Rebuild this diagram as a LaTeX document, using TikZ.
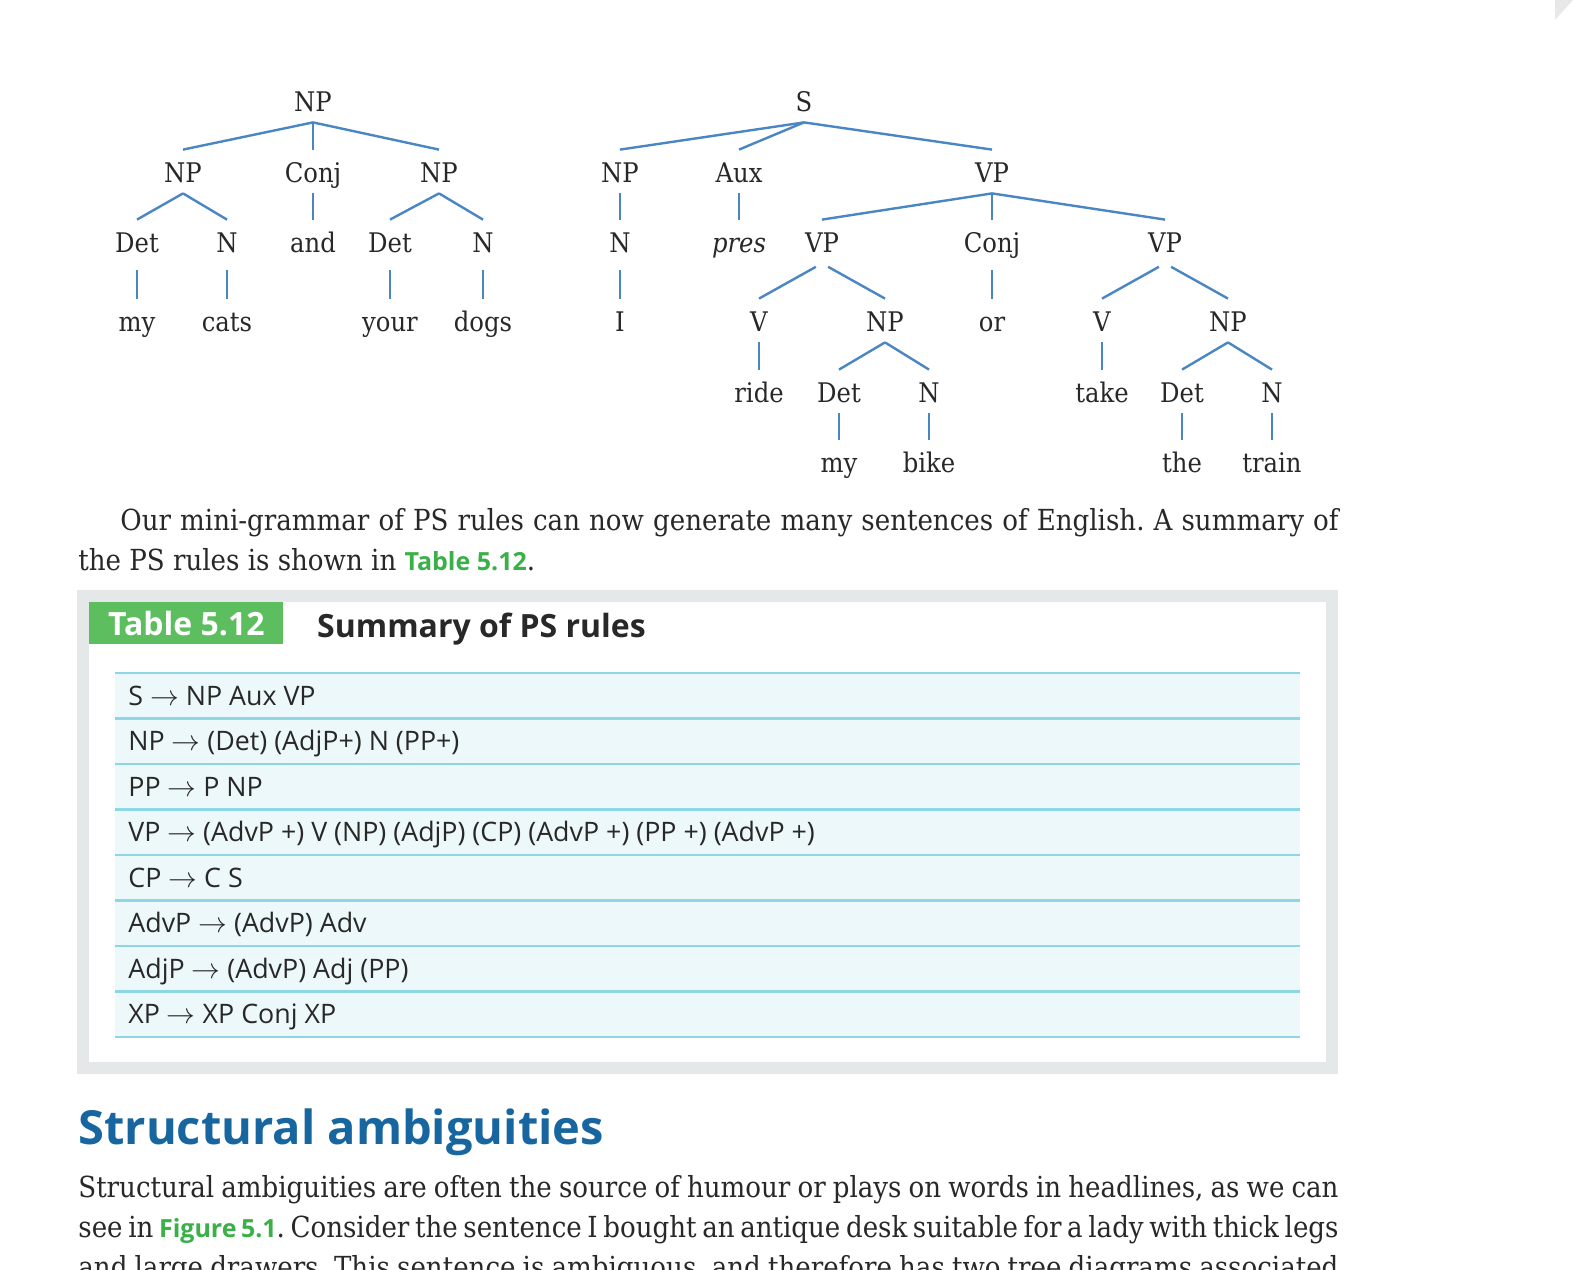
\documentclass[tikz,border=0pt]{standalone}
\usepackage{fontspec}
\setmainfont{DejaVu Serif Condensed}
\setsansfont{Open Sans}
\usetikzlibrary{positioning}
\definecolor{branchblue}{RGB}{74,134,196}
\definecolor{inkgray}{RGB}{40,40,40}
\definecolor{tabgreen}{RGB}{92,190,94}
\definecolor{linkgreen}{RGB}{58,176,72}
\definecolor{framegray}{RGB}{229,232,233}
\definecolor{rowfill}{RGB}{237,248,250}
\definecolor{rowline}{RGB}{140,214,229}
\definecolor{headblue}{RGB}{24,102,160}
\newcommand{\psarrow}{$\rightarrow$}
\newcommand{\greenref}[1]{{\sffamily\bfseries\fontsize{12.5}{14}\selectfont\color{linkgreen}#1}}
\frenchspacing
\tikzset{
  cat/.style={anchor=base,text=inkgray,font=\fontsize{13.5}{15}\selectfont,
    text height=15pt,text depth=4.5pt,inner xsep=1pt,inner ysep=1pt},
  branch/.style={draw=branchblue,line width=1.2pt},
  lowbranch/.style={branch,shorten <=3.5pt},
  bodyline/.style={anchor=base west,inner sep=0pt,text=inkgray,font=\fontsize{14.5}{16}\selectfont},
  rulerow/.style={anchor=base west,inner sep=0pt,text=inkgray,font=\sffamily\fontsize{13.4}{15}\selectfont}
}
\begin{document}
\begin{tikzpicture}[x=0.5pt,y=-0.5pt]
\useasboundingbox (0,0) rectangle (1573,1269);
\fill[white] (0,0) rectangle (1573,1269);
\fill[black!9] (1555,0) -- (1573,0) -- (1555,20) -- cycle;

% coordination of NPs
\node[cat] (np0) at (313,111) {NP};
\node[cat] (np1) at (183,182) {NP};
\node[cat] (conj1) at (313,182) {Conj};
\node[cat] (np2) at (439,182) {NP};
\node[cat] (det1) at (137,252) {Det};
\node[cat] (n1) at (227,252) {N};
\node[cat] (and1) at (313,252) {and};
\node[cat] (det2) at (390,252) {Det};
\node[cat] (n2) at (483,252) {N};
\node[cat] (my1) at (137,331) {my};
\node[cat] (cats) at (227,331) {cats};
\node[cat] (your) at (390,331) {your};
\node[cat] (dogs) at (483,331) {dogs};

% coordination of VPs
\node[cat] (s0) at (804,111) {S};
\node[cat] (np3) at (620,182) {NP};
\node[cat] (aux) at (739,182) {Aux};
\node[cat] (vp0) at (992,182) {VP};
\node[cat] (n3) at (620,252) {N};
\node[cat] (pres) at (739,252) {\textit{pres}};
\node[cat] (vp1) at (822,252) {VP};
\node[cat] (conj2) at (992,252) {Conj};
\node[cat] (vp2) at (1165,252) {VP};
\node[cat] (i0) at (620,331) {I};
\node[cat] (v1) at (759,331) {V};
\node[cat] (np4) at (885,331) {NP};
\node[cat] (or) at (992,331) {or};
\node[cat] (v2) at (1102,331) {V};
\node[cat] (np5) at (1228,331) {NP};
\node[cat] (ride) at (759,402) {ride};
\node[cat] (det3) at (839,402) {Det};
\node[cat] (n4) at (929,402) {N};
\node[cat] (take) at (1102,402) {take};
\node[cat] (det4) at (1182,402) {Det};
\node[cat] (n5) at (1272,402) {N};
\node[cat] (my2) at (839,472) {my};
\node[cat] (bike) at (929,472) {bike};
\node[cat] (the) at (1182,472) {the};
\node[cat] (train) at (1272,472) {train};

\foreach \p/\c in {np0/np1,np0/conj1,np0/np2,np1/det1,np1/n1,conj1/and1,np2/det2,np2/n2,
  s0/np3,s0/aux,s0/vp0,np3/n3,aux/pres,vp0/vp1,vp0/conj2,vp0/vp2,
  v1/ride,np4/det3,np4/n4,det3/my2,n4/bike,v2/take,np5/det4,np5/n5,det4/the,n5/train}
  \draw[branch] (\p.south) -- (\c.north);
\foreach \p/\c in {det1/my1,n1/cats,det2/your,n2/dogs,n3/i0,vp1/v1,vp1/np4,conj2/or,vp2/v2,vp2/np5}
  \draw[lowbranch] (\p.south) -- (\c.north);

% running text
\node[bodyline] (par1) at (120,530) {\makebox[609pt][s]{Our mini-grammar of PS rules can now generate many sentences of English. A summary of}};
\node[bodyline] (par2) at (78,570) {the PS rules is shown in \greenref{Table 5.12}.};

% table
\fill[framegray] (77,590) rectangle (1338,1074);
\fill[white] (89,602) rectangle (1326,1062);
\node[anchor=north west,fill=tabgreen,minimum width=97pt,minimum height=21pt,inner sep=0pt,
  text=white,font=\sffamily\bfseries\fontsize{16}{18}\selectfont] (tabno) at (89,602) {Table 5.12};
\node[anchor=base west,inner sep=0pt,text=inkgray,font=\sffamily\bfseries\fontsize{16}{18}\selectfont]
  (tabtitle) at ([xshift=16.5pt,yshift=-1pt]tabno.base east) {Summary of PS rules};
\fill[rowfill] (115,673) rectangle (1300,1037);
\foreach \r [count=\k from 0] in {S \psarrow{} NP Aux VP,
  NP \psarrow{} (Det) (AdjP+) N (PP+),
  PP \psarrow{} P NP,
  VP \psarrow{} (AdvP +) V (NP) (AdjP) (CP) (AdvP +) (PP +) (AdvP +),
  CP \psarrow{} C S,
  AdvP \psarrow{} (AdvP) Adv,
  AdjP \psarrow{} (AdvP) Adj (PP),
  XP \psarrow{} XP Conj XP}
  \node[rulerow] (rule\k) at (128,{673+45.5*\k+32}) {\r};
\foreach \k in {0,...,8}
  \draw[rowline,line width=1.3pt] (115,{673+45.5*\k}) -- (1300,{673+45.5*\k});

% next section
\node[anchor=base west,inner sep=0pt,text=headblue,
  font=\sffamily\bfseries\fontsize{23.5}{26}\selectfont] (secthead) at (78,1144) {Structural ambiguities};
\node[bodyline] (par3) at (78,1197) {\makebox[630pt][s]{Structural ambiguities are often the source of humour or plays on words in headlines, as we can}};
\node[bodyline] (par4) at (78,1237) {\makebox[630pt][s]{see in \greenref{Figure 5.1}. Consider the sentence I bought an antique desk suitable for a lady with thick legs}};
\node[bodyline] (par5) at (78,1277) {\makebox[630pt][s]{and large drawers. This sentence is ambiguous, and therefore has two tree diagrams associated}};
\end{tikzpicture}
\end{document}
